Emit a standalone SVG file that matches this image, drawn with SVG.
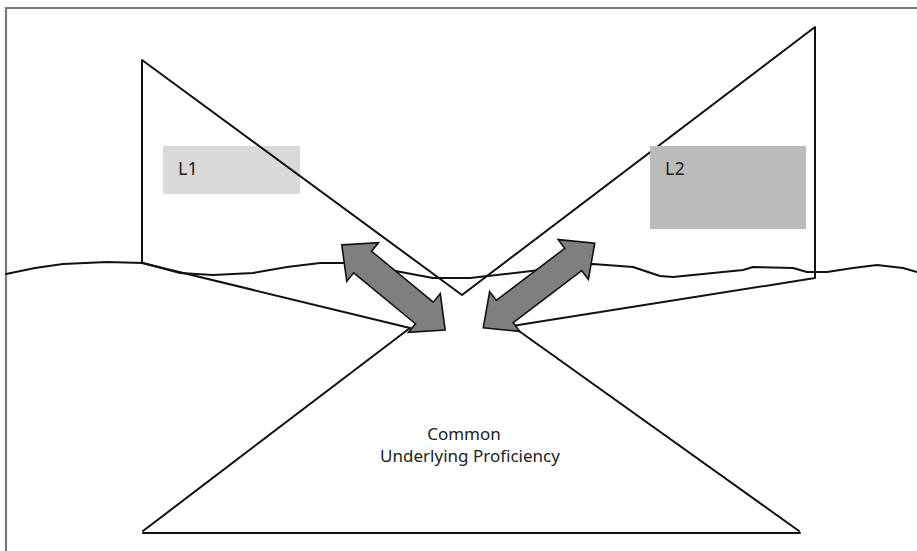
<svg xmlns="http://www.w3.org/2000/svg" width="917" height="551" viewBox="0 0 917 551">
<style>
.ln{fill:none;stroke:#111;stroke-width:2;stroke-linejoin:round;stroke-linecap:round}
.arw{fill:#7f7f7f;stroke:#111;stroke-width:1.6;stroke-linejoin:miter}
.lbl{font-family:"Noto Sans","DejaVu Sans",sans-serif;font-size:18px;fill:#222}
.cap{font-family:"Noto Sans","DejaVu Sans",sans-serif;font-size:17px;fill:#222;text-anchor:middle}
</style>
<rect x="0" y="0" width="917" height="551" fill="#fff"/>
<g id="border"><path d="M6 551 V8 H917" fill="none" stroke="#7a7a7a" stroke-width="2.2"/></g>
<g id="L1-box"><rect x="163" y="146" width="137" height="48" fill="#d9d9d9"/><text class="lbl" x="178" y="175">L1</text></g>
<g id="wave"><polyline class="ln" stroke-width="1.8" points="6,274 35,268 63,264 107,262 143,263 180,273 213,275 253,273 287,267 320,263 345,263 390,270 433,278 470,278 540,270 593,264 633,267 660,276 673,277 743,270 753,267 793,268 807,272 827,272 853,268 877,265 903,268 917,272"/></g>
<g id="L1-shape"><path class="ln" d="M142 263 V60 L462 295 L815 27 V278 L512 326"/><path class="ln" d="M142 263 L410 328"/></g>
<g id="L2-box"><rect x="650" y="146" width="156" height="83" fill="#bbbbbb"/><text class="lbl" x="665" y="175">L2</text></g>
<g id="cup"><path class="ln" d="M410 328 L143 531"/><path class="ln" d="M512 326 L799 531"/><path class="ln" d="M143 533 H800" stroke-width="2.6"/>
<text class="cap" x="464" y="440">Common</text><text class="cap" x="470" y="462">Underlying Proficiency</text></g>
<g id="connectors">
<path class="arw" transform="translate(393.5 287.5) rotate(39.5)" d="M-67 0 L-40 -25 L-40 -14 L40 -14 L40 -25 L67 0 L40 25 L40 14 L-40 14 L-40 25 Z"/>
<path class="arw" transform="translate(539 285.5) rotate(-37.2)" d="M-70 0 L-43 -25 L-43 -14 L43 -14 L43 -25 L70 0 L43 25 L43 14 L-43 14 L-43 25 Z"/>
</g>
</svg>
